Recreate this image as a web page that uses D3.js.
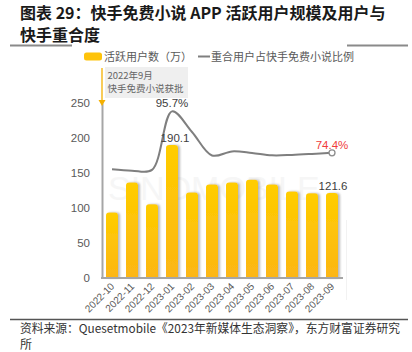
<!DOCTYPE html>
<html><head><meta charset="utf-8">
<script src="https://cdn.jsdelivr.net/npm/d3@7"></script>
<style>
html,body{margin:0;padding:0;background:#fff;}
svg{display:block;}
</style></head>
<body>
<svg id="c" width="412" height="352"></svg>
<script>
const titleLines = ["图表 29：快手免费小说 APP 活跃用户规模及用户与", "快手重合度"];
const categories = ["2022-10","2022-11","2022-12","2023-01","2023-02","2023-03","2023-04","2023-05","2023-06","2023-07","2023-08","2023-09"];
const activeUsers = [93.5, 136.5, 105.5, 190.1, 122, 133.5, 136.5, 140.5, 133.5, 123.5, 121, 121.6];
const overlapRatio = [65.9, 65.2, 65.6, 95.7, 85.1, 73.0, 75.1, 74.3, 73.1, 73.3, 73.8, 74.4];
const yTicks = [0, 50, 100, 150, 200, 250];
const legendLabels = ["活跃用户数（万）", "重合用户占快手免费小说比例"];
const annotationLines = ["2022年9月", "快手免费小说获批"];
const sourceLines = ["资料来源：Quesetmobile《2023年新媒体生态洞察》，东方财富证券研究", "所"];

const svg = d3.select("#c");
const font = "'Noto Sans CJK SC', 'Noto Sans', sans-serif";

// Title
svg.append("g").selectAll("text").data(titleLines).join("text")
  .attr("x", 20).attr("y", (d,i) => 18.8 + i*22)
  .attr("font-family", font).attr("font-weight", "bold").attr("font-size", 16)
  .attr("fill", "#1a1a1a").text(d => d);

// top rule fragments and bottom rule
svg.append("line").attr("x1",10).attr("x2",72).attr("y1",45.5).attr("y2",45.5).attr("stroke","#8a8a8a").attr("stroke-width",2);
svg.append("line").attr("x1",347).attr("x2",408).attr("y1",45.5).attr("y2",45.5).attr("stroke","#8a8a8a").attr("stroke-width",2);
svg.append("line").attr("x1",10).attr("x2",408).attr("y1",319.5).attr("y2",319.5).attr("stroke","#555").attr("stroke-width",1.5);
svg.append("line").attr("x1",346.5).attr("x2",346.5).attr("y1",220).attr("y2",300).attr("stroke","#f2f2f2").attr("stroke-width",1);

// Source
svg.append("text").attr("x",20).attr("y",332.5).attr("font-family",font).attr("font-size",12).attr("fill","#333")
  .attr("textLength",380).attr("lengthAdjust","spacingAndGlyphs").text(sourceLines[0]);
svg.append("text").attr("x",20).attr("y",349).attr("font-family",font).attr("font-size",12).attr("fill","#333").text(sourceLines[1]);

// defs
const defs = svg.append("defs");
const grad = defs.append("linearGradient").attr("id","barGrad").attr("x1",0).attr("x2",0).attr("y1",0).attr("y2",1);
grad.append("stop").attr("offset","0%").attr("stop-color","#ffcd00");
grad.append("stop").attr("offset","100%").attr("stop-color","#fcb614");
const f = defs.append("filter").attr("id","shadow").attr("x","-30%").attr("y","-10%").attr("width","160%").attr("height","120%");
f.append("feDropShadow").attr("dx",2).attr("dy",0).attr("stdDeviation",1.3).attr("flood-color","#808080").attr("flood-opacity",0.55);

// Watermark (very faint)
svg.append("text").attr("x",108).attr("y",200).attr("font-family","'Liberation Sans Narrow', 'Liberation Sans', sans-serif").attr("font-size",34)
  .attr("fill","#f6f6f6").text("SINOMOBILE");

// Scales
const x = d3.scaleBand().domain(categories).range([102, 342]).paddingInner(0.4).paddingOuter(0.2);
const y = d3.scaleLinear().domain([0, 250]).range([278, 103]);
const yR = d3.scaleLinear().domain([10, 100]).range([278, 103]);

// Y axis
const yAxis = svg.append("g").attr("transform","translate(102,0)")
  .call(d3.axisLeft(y).tickValues(yTicks).tickSize(0).tickPadding(12));
yAxis.select(".domain").attr("stroke","#a6a6a6").attr("stroke-width",2);
yAxis.selectAll("text").attr("font-family","'Liberation Sans', Arial, sans-serif").attr("font-size",11.5).attr("fill","#595959");

// Bars
const bw = x.bandwidth(), r = 3;
svg.append("g").selectAll("path").data(activeUsers).join("path")
  .attr("filter","url(#shadow)")
  .attr("fill","url(#barGrad)")
  .attr("d", (d,i) => {
    const x0 = x(categories[i]), yt = y(d), yb = y(0);
    return `M${x0},${yb}V${yt+r}Q${x0},${yt} ${x0+r},${yt}H${x0+bw-r}Q${x0+bw},${yt} ${x0+bw},${yt+r}V${yb}Z`;
  });

// X axis
const xAxis = svg.append("g").attr("transform","translate(0,278)")
  .call(d3.axisBottom(x).tickSize(0).tickPadding(0).tickSizeOuter(0));
xAxis.select(".domain").attr("stroke","#a6a6a6").attr("stroke-width",2).attr("d","M101,0H343");
xAxis.selectAll("text").attr("font-family","'Liberation Sans', Arial, sans-serif").attr("font-size",10).attr("fill","#595959")
  .attr("text-anchor","end").attr("dy",0)
  .attr("transform","translate(3,9) rotate(-45)");

// Line
const pts = overlapRatio.map((v,i) => [x(categories[i]) + bw/2, yR(v)]);
svg.append("path").attr("d", d3.line().curve(d3.curveCatmullRom.alpha(0.5))(pts))
  .attr("fill","none").attr("stroke","#7f7f7f").attr("stroke-width",2);
const last = pts[pts.length-1];
svg.append("circle").attr("cx",last[0]).attr("cy",last[1]).attr("r",3).attr("fill","#fff").attr("stroke","#8c8c8c").attr("stroke-width",1.3);

// Labels
const peakIdx = overlapRatio.indexOf(d3.max(overlapRatio));
svg.append("text").attr("x", pts[peakIdx][0]).attr("y", 107).attr("text-anchor","middle")
  .attr("font-family","'Liberation Sans', Arial, sans-serif").attr("font-size",11.5).attr("fill","#404040")
  .text(overlapRatio[peakIdx].toFixed(1) + "%");
svg.append("text").attr("x", last[0]).attr("y", last[1]-4).attr("text-anchor","middle")
  .attr("font-family","'Liberation Sans', Arial, sans-serif").attr("font-size",11.5).attr("fill","#f03c3c")
  .text(overlapRatio[overlapRatio.length-1].toFixed(1) + "%");
const maxBarIdx = activeUsers.indexOf(d3.max(activeUsers));
svg.append("text").attr("x", x(categories[maxBarIdx]) + bw/2 + 3).attr("y", y(activeUsers[maxBarIdx]) - 3).attr("text-anchor","middle")
  .attr("font-family","'Liberation Sans', Arial, sans-serif").attr("font-size",11.5).attr("fill","#404040")
  .text(activeUsers[maxBarIdx].toFixed(1));
const li = activeUsers.length-1;
svg.append("text").attr("x", x(categories[li]) + bw/2 + 1).attr("y", y(activeUsers[li]) - 3).attr("text-anchor","middle")
  .attr("font-family","'Liberation Sans', Arial, sans-serif").attr("font-size",11.5).attr("fill","#404040")
  .text(activeUsers[li].toFixed(1));

// Annotation
svg.append("rect").attr("x",105).attr("y",67).attr("width",83).attr("height",31).attr("fill","#efefef");
svg.append("g").selectAll("text").data(annotationLines).join("text")
  .attr("x",107.5).attr("y",(d,i) => 78.5 + i*13.8)
  .attr("font-family",font).attr("font-size",9.5).attr("fill","#666").text(d => d);
svg.append("line").attr("x1",102).attr("x2",102).attr("y1",68).attr("y2",103).attr("stroke","#f5b000").attr("stroke-width",1.3);
svg.append("path").attr("d","M98.5,100L105.5,100L102,106Z").attr("fill","#f5b000");

// Legend
svg.append("rect").attr("x",84).attr("y",52.5).attr("width",18).attr("height",8).attr("rx",2.5).attr("fill","#fec30a");
svg.append("text").attr("x",104).attr("y",60.5).attr("font-family",font).attr("font-size",11).attr("fill","#595959").text(legendLabels[0]);
svg.append("line").attr("x1",198).attr("x2",210).attr("y1",56.5).attr("y2",56.5).attr("stroke","#7f7f7f").attr("stroke-width",2);
svg.append("text").attr("x",211).attr("y",60.5).attr("font-family",font).attr("font-size",11).attr("fill","#595959").text(legendLabels[1]);
</script>
</body></html>
